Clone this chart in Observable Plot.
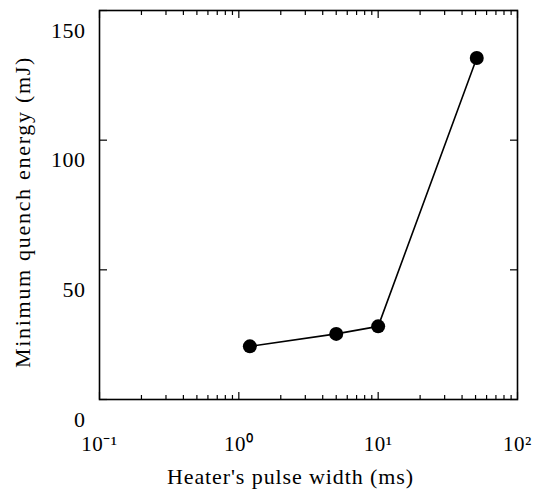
<!DOCTYPE html>
<html>
<head>
<meta charset="utf-8">
<script src="https://cdn.jsdelivr.net/npm/d3@7"></script>
<script src="https://cdn.jsdelivr.net/npm/@observablehq/plot@0.6"></script>
<style>
  html, body { margin: 0; padding: 0; background: white; }
</style>
</head>
<body>
<div id="chart"></div>
<script>
// Data
const pulseWidth = [1.2, 5, 10, 51];          // ms
const energy = [20.5, 25.3, 28.2, 131.7];     // mJ

// Axis ticks
const xMajorTicks = [0.1, 1, 10, 100];
const xTickLabels = ["10\u207B\u00B9", "10\u2070", "10\u00B9", "10\u00B2"];
const xMinorTicks = [0.2, 0.3, 0.4, 0.5, 0.6, 0.7, 0.8, 0.9,
                     2, 3, 4, 5, 6, 7, 8, 9,
                     20, 30, 40, 50, 60, 70, 80, 90];
const yTicks = [0, 50, 100, 150];
const yTickLabels = ["0", "50", "100", "150"];

const xTitle = "Heater's pulse width (ms)";
const yTitle = "Minimum quench energy (mJ)";

const data = pulseWidth.map((x, i) => ({x, y: energy[i]}));
const blank = () => "";

const chart = Plot.plot({
  width: 535,
  height: 491,
  marginLeft: 99,
  marginRight: 18,
  marginTop: 10,
  marginBottom: 92,
  x: {type: "log", domain: [0.1, 100]},
  y: {domain: [0, 150]},
  style: {fontFamily: "'Liberation Serif', 'Times New Roman', serif", fontSize: "21px", color: "black", background: "white"},
  marks: [
    // inward ticks on all four sides
    Plot.axisX({anchor: "bottom", ticks: xMinorTicks, tickSize: -4, tickFormat: blank, label: null, strokeWidth: 1.2}),
    Plot.axisX({anchor: "bottom", ticks: xMajorTicks, tickSize: -7, tickFormat: blank, label: null, strokeWidth: 1.2}),
    Plot.axisX({anchor: "top", ticks: xMinorTicks, tickSize: -4, tickFormat: blank, label: null, strokeWidth: 1.2}),
    Plot.axisX({anchor: "top", ticks: xMajorTicks, tickSize: -7, tickFormat: blank, label: null, strokeWidth: 1.2}),
    Plot.axisY({anchor: "left", ticks: yTicks, tickSize: -8, tickFormat: blank, label: null, strokeWidth: 1.2}),
    Plot.axisY({anchor: "right", ticks: yTicks, tickSize: -8, tickFormat: blank, label: null, strokeWidth: 1.2}),
    // tick labels (offset as in the original figure)
    Plot.axisX({anchor: "bottom", ticks: xMajorTicks, tickSize: 0, tickPadding: 37,
                tickFormat: d => xTickLabels[xMajorTicks.indexOf(d)], label: null, fontSize: 21}),
    Plot.axisY({anchor: "left", ticks: yTicks, tickSize: 0, tickPadding: 14, dy: 20,
                tickFormat: d => yTickLabels[yTicks.indexOf(d)], label: null, fontSize: 22}),
    Plot.frame({stroke: "black", strokeWidth: 1.6}),
    Plot.line(data, {x: "x", y: "y", stroke: "black", strokeWidth: 1.6}),
    Plot.dot(data, {x: "x", y: "y", r: 7, fill: "black", stroke: "none"}),
    // axis titles
    Plot.text([xTitle], {text: d => d, frameAnchor: "bottom", lineAnchor: "middle", textAnchor: "middle",
                         dy: 77, dx: -18, fontSize: 22}),
    Plot.text([yTitle], {text: d => d, frameAnchor: "left", lineAnchor: "middle", textAnchor: "middle",
                         rotate: -90, dx: -77, dy: 7, fontSize: 22})
  ]
});

document.getElementById("chart").appendChild(chart);

// letter spacing as in the typeset original
d3.select(chart).selectAll("text").each(function() {
  const t = this.textContent;
  if (t === xTitle) this.style.letterSpacing = "0.9px";
  else if (t === yTitle) this.style.letterSpacing = "1.7px";
  else this.style.letterSpacing = "0.5px";
});
</script>
</body>
</html>
